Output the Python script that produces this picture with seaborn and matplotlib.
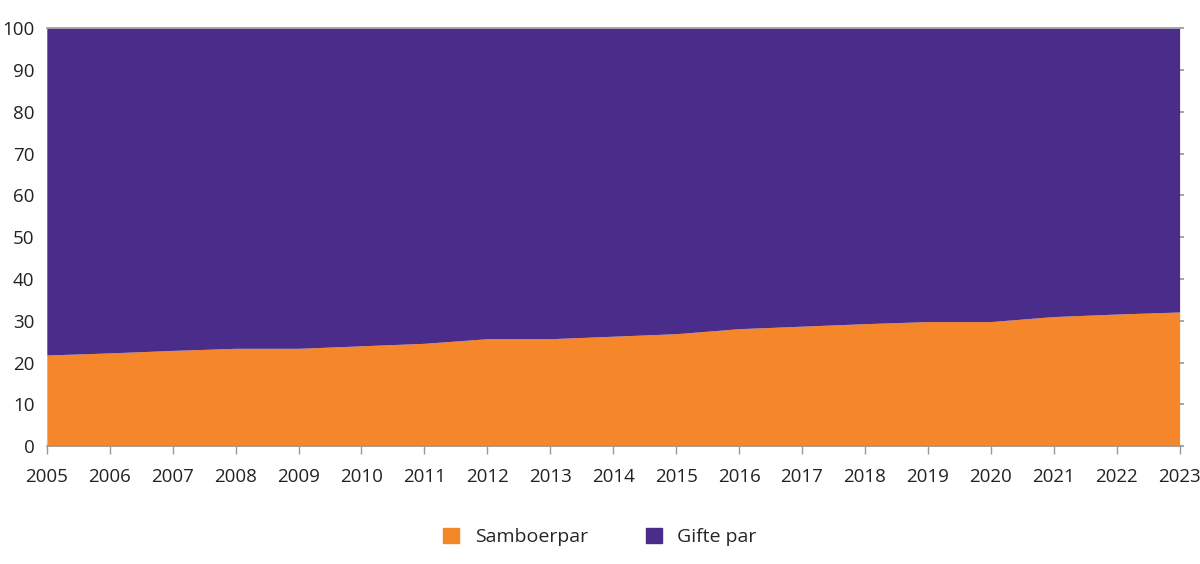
import seaborn as sns
import pandas as pd
import numpy as np
import matplotlib.pyplot as plt
import matplotlib.patches as mpatches

years = list(range(2005, 2024))
samboerpar = [21.8, 22.3, 22.9, 23.4, 23.4, 24.0, 24.6, 25.7, 25.7, 26.3,
              26.9, 28.1, 28.7, 29.3, 29.8, 29.8, 31.0, 31.6, 32.1]
gifte_par = [100 - v for v in samboerpar]
labels = ['Samboerpar', 'Gifte par']
colors = ['#F5862A', '#4A2D8A']

df = pd.DataFrame({'year': years, labels[0]: samboerpar, labels[1]: gifte_par})

sns.set_theme(style='white')
plt.rcParams['font.family'] = ['Open Sans', 'DejaVu Sans']

fig = plt.figure(figsize=(12, 5.64), dpi=100)
ax = fig.add_axes([0.039, 0.209, 0.944, 0.741])

ax.stackplot(df['year'], df[labels[0]], df[labels[1]], colors=colors, linewidth=0)

ax.set_xlim(2005, 2023)
ax.set_ylim(0, 100)
ax.set_xticks(years)
ax.set_yticks(np.arange(0, 101, 10))
ax.tick_params(axis='x', labelsize=13.5, colors='#222222', length=6, width=1,
               direction='out', bottom=True, color='#999999', pad=10)
ax.tick_params(axis='y', labelsize=13.5, colors='#222222', left=False, right=True,
               length=3, color='#999999', labelleft=True, pad=6)
for s in ['left', 'right']:
    ax.spines[s].set_visible(False)
for s in ['top', 'bottom']:
    ax.spines[s].set_color('#999999')
    ax.spines[s].set_linewidth(1.2)

handles = [mpatches.Patch(color=c, label=l) for c, l in zip(colors, labels)]
fig.legend(handles=handles, loc='center', bbox_to_anchor=(0.5, 0.048), ncol=2,
           frameon=False, fontsize=14, handlelength=0.8, handleheight=0.8,
           columnspacing=3.0, handletextpad=0.8)

fig.savefig('out.png', dpi=100)
